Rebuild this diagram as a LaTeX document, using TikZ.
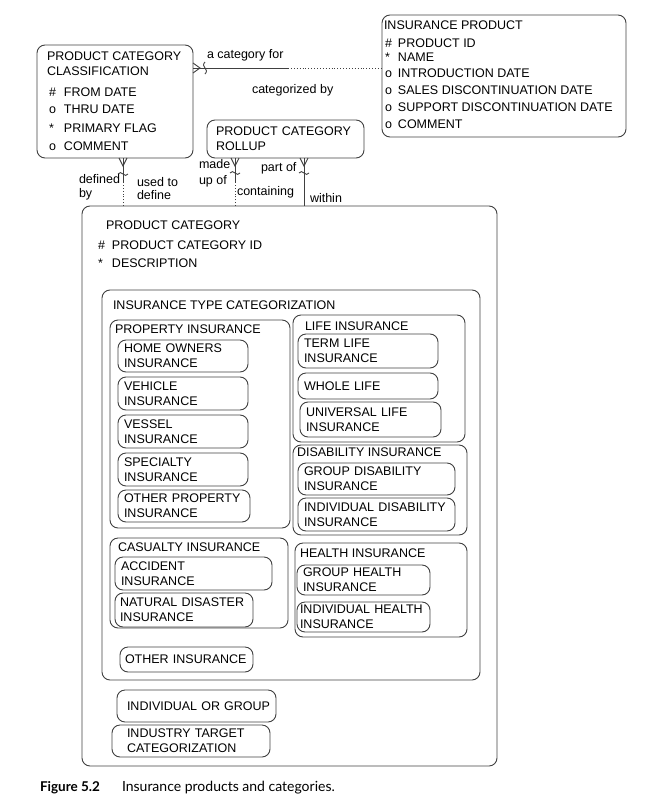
\documentclass[tikz,border=0pt]{standalone}
\usepackage{fontspec}
\setmainfont{Liberation Sans}
\newfontfamily\capsans{Lato}
\usepackage{tikz}
\newcommand{\att}[3][14pt]{\makebox[#1][l]{#2}#3}

\begin{document}
\begin{tikzpicture}[x=1pt,y=-1pt,
  every node/.style={inner sep=0pt, outer sep=0pt, font=\fontsize{12.5}{15}\selectfont},
  ent/.style={draw=black!75, line width=0.9pt, rounded corners=8pt, anchor=north west},
  leaf/.style={ent, align=left, inner xsep=6pt},
  lbl/.style={anchor=west, align=left},
  role/.style={anchor=base west},
  rel/.style={draw=black!75, line width=0.9pt},
  opt/.style={rel, dotted}]
\useasboundingbox (0,0) rectangle (671,806);

\node[ent, minimum width=156, minimum height=113] (clsf) at (37,45) {};
\node[lbl] (clsfT) at (47,63.5) {PRODUCT CATEGORY\\CLASSIFICATION};
\node[lbl] (clsfA1) at (49,92) {\att[15pt]{\#}{FROM DATE}};
\node[lbl] (clsfA2) at (49,109) {\att[15pt]{o}{THRU DATE}};
\node[lbl] (clsfA3) at (49,128) {\att[15pt]{*}{PRIMARY FLAG}};
\node[lbl] (clsfA4) at (49,146) {\att[15pt]{o}{COMMENT}};

\node[ent, minimum width=244, minimum height=122] (prod) at (382,15) {};
\node[lbl] (prodT) at (384,25) {INSURANCE PRODUCT};
\node[lbl] (prodA1) at (385,43) {\att[13pt]{\#}{PRODUCT ID}};
\node[lbl] (prodA2) at (385,57) {\att[13pt]{*}{NAME}};
\node[lbl] (prodA3) at (385,73) {\att[13pt]{o}{INTRODUCTION DATE}};
\node[lbl] (prodA4) at (385,90) {\att[13pt]{o}{SALES DISCONTINUATION DATE}};
\node[lbl] (prodA5) at (385,107) {\att[13pt]{o}{SUPPORT DISCONTINUATION DATE}};
\node[lbl] (prodA6) at (385,124) {\att[13pt]{o}{COMMENT}};

\node[leaf, text width=139, minimum height=38, inner xsep=9pt] (roll) at (207,120) {PRODUCT~CATEGORY\\ROLLUP};

\node[ent, minimum width=415, minimum height=560] (cat) at (82,206) {};
\node[lbl] (catT) at (106,225) {PRODUCT CATEGORY};
\node[lbl] (catA1) at (98,245) {\att{\#}{PRODUCT CATEGORY ID}};
\node[lbl] (catA2) at (98,263) {\att{*}{DESCRIPTION}};

\node[ent, minimum width=378, minimum height=390] (itc) at (102,290) {};
\node[lbl] (itcT) at (113,305) {INSURANCE TYPE CATEGORIZATION};

% property
\node[ent, minimum width=180, minimum height=208] (propI) at (110,320) {};
\node[lbl] (propT) at (115,329) {PROPERTY INSURANCE};
\node[leaf, text width=118, minimum height=32] (home) at (118,340) {HOME OWNERS\\INSURANCE};
\node[leaf, text width=118, minimum height=33] (vehic) at (118,377) {VEHICLE\\INSURANCE};
\node[leaf, text width=118, minimum height=33] (vessel) at (118,415) {VESSEL\\INSURANCE};
\node[leaf, text width=118, minimum height=33] (spec) at (118,453) {SPECIALTY\\INSURANCE};
\node[leaf, text width=120, minimum height=32] (othprop) at (118,490) {OTHER~PROPERTY\\INSURANCE};

% life
\node[ent, minimum width=172, minimum height=127] (lifeI) at (293,315) {};
\node[lbl] (lifeT) at (305,326) {LIFE INSURANCE};
\node[leaf, text width=128, minimum height=34] (term) at (298,334) {TERM LIFE\\INSURANCE};
\node[leaf, text width=128, minimum height=26] (whole) at (298,373) {WHOLE LIFE};
\node[leaf, text width=129, minimum height=35] (univ) at (300,402) {UNIVERSAL LIFE\\INSURANCE};

% disability
\node[ent, minimum width=174, minimum height=90] (disI) at (293,445) {};
\node[lbl] (disT) at (297,452) {DISABILITY INSURANCE};
\node[leaf, text width=145, minimum height=32] (grpdis) at (298,463) {GROUP DISABILITY\\INSURANCE};
\node[leaf, text width=145, minimum height=33] (inddis) at (298,498) {INDIVIDUAL~DISABILITY\\INSURANCE};

% casualty
\node[ent, minimum width=178, minimum height=90] (casI) at (110,538) {};
\node[lbl] (casT) at (118,547) {CASUALTY INSURANCE};
\node[leaf, text width=145, minimum height=33] (acc) at (115,557) {ACCIDENT\\INSURANCE};
\node[leaf, text width=128, minimum height=34, inner xsep=5pt] (nat) at (115,593) {NATURAL~DISASTER\\INSURANCE};

% health
\node[ent, minimum width=172, minimum height=94] (hlthI) at (295,543) {};
\node[lbl] (hlthT) at (300,553) {HEALTH INSURANCE};
\node[leaf, text width=121, minimum height=30] (grph) at (297,565) {GROUP HEALTH\\INSURANCE};
\node[leaf, text width=127, minimum height=30, inner xsep=3pt] (indh) at (297,602) {INDIVIDUAL~HEALTH\\INSURANCE};

\node[leaf, text width=123, minimum height=25, inner xsep=5pt] (othI) at (120,647) {OTHER INSURANCE};

\node[leaf, text width=139, minimum height=32, inner xsep=10pt] (indgrp) at (117,690) {INDIVIDUAL~OR~GROUP};
\node[leaf, text width=128, minimum height=32, inner xsep=15pt] (indtgt) at (112,725) {INDUSTRY TARGET\\CATEGORIZATION};

% relationships
\coordinate (h) at (0,68);
\coordinate (v1) at (123,0);
\coordinate (v2) at (235,0);
\coordinate (v3) at (304,0);

\draw[rel] (clsf.east |- h) -- ++(95,0) coordinate (hm);
\draw[opt] (hm) -- (prod.west |- h);
\draw[rel] (clsf.east |- h) ++(0,-5) -- ++(7,5) -- ++(-7,5);
\draw[rel, shift={(clsf.east |- h)}] (12,-6) .. controls (7,-1) and (17,1) .. (12,6);

\draw[rel] (clsf.south -| v1) -- ++(0,25);
\draw[opt] (cat.north -| v1) -- ++(0,-23);
\draw[rel] (clsf.south -| v1) ++(-4,0) -- ++(4,8) -- ++(4,-8);
\draw[rel, shift={(clsf.south -| v1)}] (-5,16) .. controls (-2,11) and (2,21) .. (5,16);

\draw[rel] (roll.south -| v2) -- ++(0,25);
\draw[opt] (cat.north -| v2) -- ++(0,-23);
\draw[rel] (roll.south -| v2) ++(-4,0) -- ++(4,8) -- ++(4,-8);
\draw[rel, shift={(roll.south -| v2)}] (-5,15) .. controls (-2,10) and (2,20) .. (5,15);

\draw[rel] (roll.south -| v3) -- (cat.north -| v3);
\draw[rel] (roll.south -| v3) ++(-4,0) -- ++(4,8) -- ++(4,-8);
\draw[rel, shift={(roll.south -| v3)}] (-5,15) .. controls (-2,10) and (2,20) .. (5,15);

\node[role] (lCatFor) at (207,58) {a category for};
\node[role] (lCatBy) at (252,93) {categorized by};
\node[role] (lDef1) at (79,183) {defined};
\node[role] (lDef2) at (79,197) {by};
\node[role] (lUse1) at (137,186.5) {used to};
\node[role] (lUse2) at (137,199.5) {define};
\node[role] (lMade1) at (199,168) {made};
\node[role] (lMade2) at (199,184) {up of};
\node[role] (lPart) at (261,171) {part of};
\node[role] (lCont) at (237,195) {containing};
\node[role] (lWith) at (310,202) {within};

\node[anchor=base west, font=\capsans\bfseries\fontsize{13.5}{15}\selectfont] (figNo) at (40,791) {Figure 5.2};
\node[anchor=base west, font=\capsans\fontsize{14}{17}\selectfont] (figCap) at (122,791) {Insurance products and categories.};
\end{tikzpicture}
\end{document}
